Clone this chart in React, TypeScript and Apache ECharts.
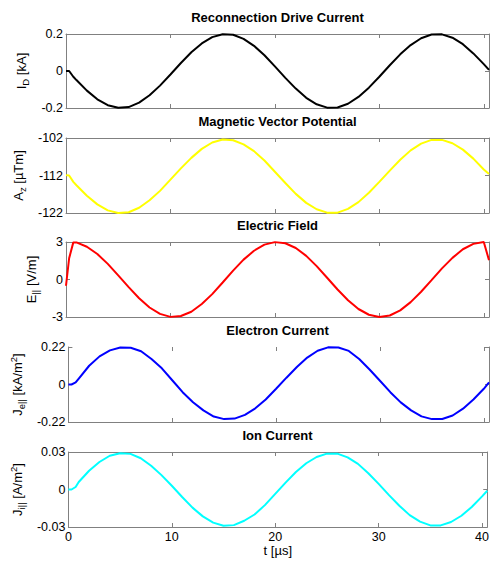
import React, { useEffect, useRef } from 'react';
import * as echarts from 'echarts';

// ---- data ----
const time = [0, 0.3, 0.7, 1, 2, 3, 4, 5, 6, 7, 8, 9, 10, 11, 12, 13, 14, 15, 16, 17, 18, 19, 20,
  21, 22, 23, 24, 25, 26, 27, 28, 29, 30, 31, 32, 33, 34, 35, 36, 37, 38, 39, 40, 40.5];

const driveCurrent = [0, 0, -0.031, -0.049, -0.106, -0.153, -0.185, -0.199, -0.195, -0.171, -0.131, -0.079,
  -0.019, 0.043, 0.101, 0.149, 0.183, 0.199, 0.196, 0.174, 0.136, 0.085, 0.025, -0.037, -0.095, -0.145,
  -0.180, -0.198, -0.197, -0.177, -0.140, -0.090, -0.031, 0.031, 0.090, 0.140, 0.177, 0.197, 0.198, 0.180,
  0.145, 0.095, 0.037, 0.006];

const vectorPotential = [-111.9, -112.0, -113.7, -114.6, -117.4, -119.7, -121.3, -122.0, -121.8, -120.6,
  -118.6, -116.1, -113.1, -110.1, -107.3, -104.9, -103.2, -102.4, -102.6, -103.7, -105.5, -108.0, -111.0,
  -114.0, -116.9, -119.3, -121.0, -121.9, -121.9, -120.9, -119.1, -116.6, -113.7, -110.7, -107.8, -105.3,
  -103.5, -102.5, -102.5, -103.4, -105.1, -107.5, -110.4, -111.6];

const electricField = [-0.5, 1.7, 2.97, 2.97, 2.62, 2.04, 1.25, 0.33, -0.61, -1.5, -2.24, -2.75, -2.99,
  -2.92, -2.58, -1.96, -1.17, -0.24, 0.71, 1.59, 2.3, 2.79, 2.99, 2.9, 2.52, 1.89, 1.07, 0.14, -0.8, -1.66,
  -2.36, -2.82, -3.0, -2.88, -2.47, -1.81, -0.98, -0.05, 0.89, 1.73, 2.42, 2.85, 3.0, 1.55];

const electronCurrent = [0, 0, 0.012, 0.035, 0.11, 0.165, 0.2, 0.217, 0.216, 0.195, 0.15, 0.095, 0.025,
  -0.045, -0.104, -0.152, -0.188, -0.203, -0.2, -0.178, -0.14, -0.088, -0.025, 0.04, 0.103, 0.158, 0.198,
  0.218, 0.217, 0.197, 0.15, 0.088, 0.022, -0.045, -0.105, -0.152, -0.187, -0.203, -0.202, -0.182, -0.142,
  -0.088, -0.025, 0.012];

const ionCurrent = [0, 0, 0.002, 0.006, 0.015, 0.022, 0.027, 0.029, 0.0285, 0.025, 0.019, 0.0115, 0.003,
  -0.006, -0.0145, -0.0215, -0.0265, -0.029, -0.0285, -0.025, -0.02, -0.0125, -0.0035, 0.0055, 0.014,
  0.021, 0.026, 0.0287, 0.0287, 0.0257, 0.0205, 0.013, 0.0045, -0.0045, -0.013, -0.0205, -0.0257, -0.0287,
  -0.0287, -0.026, -0.021, -0.014, -0.0055, -0.001];

const panelTitles = ['Reconnection Drive Current', 'Magnetic Vector Potential', 'Electric Field', 'Electron Current', 'Ion Current'];
const yMins = [-0.2, -122, -3, -0.22, -0.03];
const yMaxs = [0.2, -102, 3, 0.22, 0.03];
const yIntervals = [0.2, 10, 3, 0.22, 0.03];
const yNames = [
  '{m|I}{s|D}{m| [kA]}',
  '{m|A}{s|z}{m| [µTm]}',
  '{m|E}{s|||}{m| [V/m]}',
  '{m|J}{s|e||}{m| [kA/m}{p|2}{m|]}',
  '{m|J}{s|i||}{m| [A/m}{p|2}{m|]}',
];
const xMin = 0;
const xMax = 40.5;
const xInterval = 10;
const xName = 't [µs]';

// ---- layout / style ----
const seriesValues = [driveCurrent, vectorPotential, electricField, electronCurrent, ionCurrent];
const colors = ['#000000', '#ffff00', '#ff0000', '#0000ff', '#00ffff'];
const gridTops = [34, 138, 242, 347, 452];
const gridHeights = [74, 75, 75, 75, 75];
const nameGaps = [32, 36, 21, 39, 39];
const topBorder = [true, true, true, false, true];
const FONT = '"Liberation Sans", Arial, Helvetica, sans-serif';
const GRAY = '#808080';
const GRID_LEFT = 66;
const GRID_RIGHT = 3;

export default function App() {
  const ref = useRef<HTMLDivElement>(null);
  useEffect(() => {
    if (!ref.current) return;
    const chart = echarts.init(ref.current, undefined, { renderer: 'svg' });
    const W = 492;
    const centerX = GRID_LEFT + (W - GRID_LEFT - GRID_RIGHT) / 2;

    const grids = panelTitles.map((_, i) => ({
      left: GRID_LEFT, right: GRID_RIGHT, top: gridTops[i], height: gridHeights[i],
    }));

    const tickStyle = { show: true, inside: true, length: 4, lineStyle: { color: GRAY, width: 1 } };
    const xAxes: any[] = [];
    const yAxes: any[] = [];
    panelTitles.forEach((_, i) => {
      const last = i === panelTitles.length - 1;
      xAxes.push({
        type: 'value', gridIndex: i, position: 'bottom', min: xMin, max: xMax, interval: xInterval,
        axisLine: { show: true, onZero: false, lineStyle: { color: GRAY, width: 1 } },
        axisTick: tickStyle,
        splitLine: { show: false },
        axisLabel: {
          show: last, margin: 3, color: '#000', fontSize: 12.5, fontFamily: FONT,
          formatter: (v: number) => (v % 10 === 0 ? String(v) : ''),
        },
        name: last ? xName : '', nameLocation: 'middle', nameGap: 17,
        nameTextStyle: { color: '#000', fontSize: 13, fontFamily: FONT, verticalAlign: 'top' },
      });
      xAxes.push({
        type: 'value', gridIndex: i, position: 'top', min: xMin, max: xMax, interval: xInterval,
        axisLine: { show: topBorder[i], onZero: false, lineStyle: { color: GRAY, width: 1 } },
        axisTick: tickStyle,
        splitLine: { show: false },
        axisLabel: { show: false },
      });
      yAxes.push({
        type: 'value', gridIndex: i, position: 'left', min: yMins[i], max: yMaxs[i], interval: yIntervals[i],
        axisLine: { show: true, onZero: false, lineStyle: { color: GRAY, width: 1 } },
        axisTick: tickStyle,
        splitLine: { show: false },
        axisLabel: { margin: 3, color: '#000', fontSize: 12.5, fontFamily: FONT },
        name: yNames[i], nameLocation: 'middle', nameRotate: 90, nameGap: nameGaps[i],
        nameTextStyle: {
          color: '#000', fontFamily: FONT, fontSize: 13,
          rich: {
            m: { fontSize: 13, fontFamily: FONT, color: '#000' },
            s: { fontSize: 9.5, fontFamily: FONT, color: '#000', padding: [8, 0, 0, 0] },
            p: { fontSize: 9.5, fontFamily: FONT, color: '#000', padding: [0, 0, 8, 0] },
          },
        },
      });
      yAxes.push({
        type: 'value', gridIndex: i, position: 'right', min: yMins[i], max: yMaxs[i], interval: yIntervals[i],
        axisLine: { show: true, onZero: false, lineStyle: { color: GRAY, width: 1 } },
        axisTick: tickStyle,
        splitLine: { show: false },
        axisLabel: { show: false },
      });
    });

    const series = seriesValues.map((vals, i) => ({
      type: 'line', xAxisIndex: 2 * i, yAxisIndex: 2 * i,
      data: time.map((t, k) => [t, vals[k]]),
      showSymbol: false, symbol: 'none', clip: false,
      lineStyle: { color: colors[i], width: 2 },
    }));

    const titles = panelTitles.map((text, i) => ({
      type: 'text', x: centerX, y: gridTops[i] - 23.5,
      style: {
        text, fill: '#000', font: `bold 13px ${FONT}`, align: 'center', verticalAlign: 'top',
      },
    }));

    chart.setOption({
      animation: false,
      backgroundColor: '#ffffff',
      grid: grids,
      xAxis: xAxes,
      yAxis: yAxes,
      series,
      graphic: titles,
    });
    return () => chart.dispose();
  }, []);

  return (
    <div
      ref={ref}
      style={{ position: 'fixed', left: 0, top: 0, width: 492, height: 561, background: '#fff' }}
    />
  );
}
